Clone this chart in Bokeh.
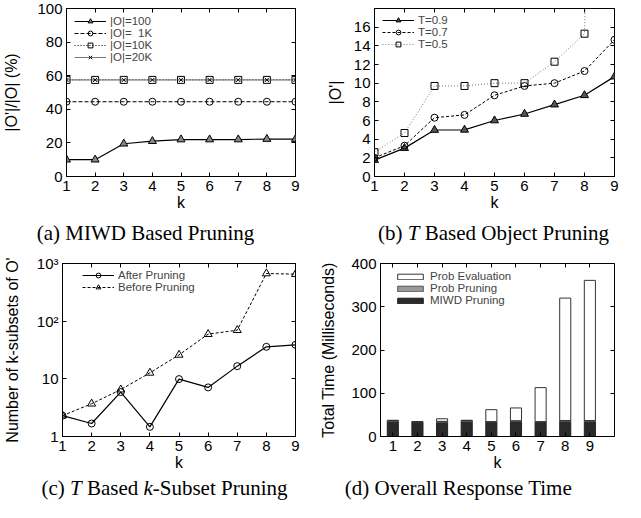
from bokeh.plotting import figure
from bokeh.layouts import column, row
from bokeh.models import (Range1d, LinearAxis, LogAxis, FixedTicker, Legend,
                          LegendItem, Label, ColumnDataSource)
from bokeh.embed import file_html
from bokeh.resources import INLINE

# ---------------- data ----------------
k = [1, 2, 3, 4, 5, 6, 7, 8, 9]
k_ticks = [1, 2, 3, 4, 5, 6, 7, 8, 9]

# (a) MIWD based pruning, |O'|/|O| (%)
ratio_100 = [10, 10, 19.5, 21, 22, 22, 22, 22.3, 22.3]
ratio_1k = [44.5, 44.5, 44.5, 44.5, 44.5, 44.5, 44.5, 44.5, 44.5]
ratio_10k = [57.5, 57.5, 57.5, 57.5, 57.5, 57.5, 57.5, 57.5, 57.5]
ratio_20k = [57.5, 57.5, 57.5, 57.5, 57.5, 57.5, 57.5, 57.5, 57.5]
a_labels = ["|O|=100", "|O|=  1K", "|O|=10K", "|O|=20K"]
a_yticks = [0, 20, 40, 60, 80, 100]

# (b) T based object pruning, |O'|
t09 = [1.76, 3.04, 4.98, 5.0, 6.0, 6.7, 7.7, 8.7, 10.7]
t07 = [2.0, 3.3, 6.3, 6.6, 8.7, 9.7, 10.0, 11.3, 14.65]
t05 = [2.6, 4.66, 9.7, 9.7, 10.0, 10.0, 12.3, 15.3, 150]
b_labels = ["T=0.9", "T=0.7", "T=0.5"]
b_yticks = [0, 2, 4, 6, 8, 10, 12, 14, 16]

# (c) T based k-subset pruning
after_pruning = [2.3, 1.68, 5.9, 1.47, 9.9, 7.1, 16.6, 35.9, 38.9]
before_pruning = [2.3, 3.7, 6.5, 12.7, 26, 59.5, 69.8, 671, 653]
c_labels = ["After Pruning", "Before Pruning"]
c_yticks = [1, 10, 100, 1000]
c_ytick_text = {1: "1", 10: "10", 100: "10\u00b2", 1000: "10\u00b3"}

# (d) overall response time (ms)
miwd_pruning = [35, 34, 33, 35, 34, 35, 34, 35, 35]
prob_pruning = [2, 0.5, 2, 2, 0.5, 1.5, 0.5, 2, 2]
prob_evaluation = [0.5, 0, 6, 0.5, 27.5, 29.5, 78.5, 283, 324]
d_labels = ["Prob Evaluation", "Prob Pruning", "MIWD Pruning"]
d_yticks = [0, 100, 200, 300, 400]

SANS = "Liberation Sans"
SERIF = "Liberation Serif"
W = 312


def style_axis(ax, label_standoff=0):
    ax.major_tick_in = 4
    ax.major_tick_out = 0
    ax.minor_tick_in = 0
    ax.minor_tick_out = 0
    ax.axis_line_color = "black"
    ax.major_tick_line_color = "black"
    ax.major_label_text_font = SANS
    ax.major_label_text_font_size = "15px"
    ax.major_label_text_color = "black"
    ax.major_label_standoff = 4
    ax.axis_label_text_font = SANS
    ax.axis_label_text_font_size = "16px"
    ax.axis_label_text_font_style = "normal"
    ax.axis_label_text_color = "black"
    ax.axis_label_standoff = label_standoff


def mirror(p, ticks, side, log=False):
    cls = LogAxis if log else LinearAxis
    ax = cls(ticker=FixedTicker(ticks=ticks),
             major_label_overrides={t: "" for t in ticks},
             major_label_text_font_size="1px", major_label_standoff=0,
             major_tick_in=4, major_tick_out=0, minor_tick_in=0, minor_tick_out=0,
             axis_line_color=None, major_tick_line_color="black")
    p.add_layout(ax, side)


def make_fig(h, xr, yr, left, right, top, bottom, ylabel, ystand, yticks, xticks, log=False):
    p = figure(width=W, height=h, x_range=xr, y_range=yr,
               y_axis_type="log" if log else "linear",
               output_backend="svg", toolbar_location=None,
               min_border_left=left, min_border_right=right,
               min_border_top=top, min_border_bottom=bottom)
    p.grid.visible = False
    p.outline_line_color = "black"
    p.outline_line_width = 1
    p.background_fill_color = "white"
    p.border_fill_color = "white"
    p.xaxis.ticker = FixedTicker(ticks=xticks)
    p.yaxis.ticker = FixedTicker(ticks=yticks)
    p.xaxis.axis_label = "k"
    p.yaxis.axis_label = ylabel
    style_axis(p.xaxis[0], 0)
    style_axis(p.yaxis[0], ystand)
    mirror(p, xticks, "above")
    mirror(p, yticks, "right", log=log)
    return p


def make_legend(p, items, loc, glyph_h=12, row_h=12):
    leg = Legend(items=items, location=loc, background_fill_alpha=0,
                 border_line_color=None, label_text_font=SANS,
                 label_text_font_size="11.5px", label_height=row_h,
                 glyph_height=glyph_h, glyph_width=32, spacing=0,
                 padding=0, margin=0, label_standoff=4,
                 label_text_baseline="middle")
    p.add_layout(leg)


def caption_fig(h):
    c = figure(width=W, height=h, x_range=Range1d(0, W), y_range=Range1d(0, h),
               output_backend="svg", toolbar_location=None, min_border=0,
               min_border_left=0, min_border_right=0, min_border_top=0,
               min_border_bottom=0)
    c.axis.visible = False
    c.grid.visible = False
    c.outline_line_color = None
    return c


def caption(c, x, y, text, italic=False, align="left"):
    c.add_layout(Label(x=x, y=y, text=text,
                       text_font=SERIF, text_font_size="21px",
                       text_font_style="italic" if italic else "normal",
                       text_align=align, text_baseline="middle",
                       text_color="black"))


# ---------------- (a) ----------------
pa = make_fig(220, Range1d(1, 9), Range1d(0, 100), 62, 17, 8, 44,
              "|O'|/|O| (%)", 14, a_yticks, k_ticks)
src_a = ColumnDataSource(dict(k=k, r100=ratio_100, r1k=ratio_1k,
                              r10k=ratio_10k, r20k=ratio_20k))
la1 = pa.line("k", "r100", source=src_a, line_color="black", line_width=1.2)
ma1 = pa.scatter("k", "r100", source=src_a, marker="triangle", size=8,
                 line_color="black", fill_color="#888888")
la2 = pa.line("k", "r1k", source=src_a, line_color="black", line_width=1, line_dash="4 2")
ma2 = pa.scatter("k", "r1k", source=src_a, marker="circle", size=7,
                 line_color="black", fill_color=None)
la3 = pa.line("k", "r10k", source=src_a, line_color="black", line_width=1, line_dash="1 2")
ma3 = pa.scatter("k", "r10k", source=src_a, marker="square", size=7,
                 line_color="black", fill_color=None)
la4 = pa.line("k", "r20k", source=src_a, line_color="#555555", line_width=0.8)
ma4 = pa.scatter("k", "r20k", source=src_a, marker="x", size=6,
                 line_color="black")
make_legend(pa, [LegendItem(label=a_labels[0], renderers=[la1, ma1]),
                 LegendItem(label=a_labels[1], renderers=[la2, ma2]),
                 LegendItem(label=a_labels[2], renderers=[la3, ma3]),
                 LegendItem(label=a_labels[3], renderers=[la4, ma4])], (8, 113))
ca = caption_fig(28)
caption(ca, 145, 16, "(a) MIWD Based Pruning", align="center")

# ---------------- (b) ----------------
pb = make_fig(220, Range1d(1, 9), Range1d(0, 18), 62, 10, 8, 44,
              "|O'|", 7, b_yticks, k_ticks)
src_b = ColumnDataSource(dict(k=k, t09=t09, t07=t07, t05=t05))
lb1 = pb.line("k", "t09", source=src_b, line_color="black", line_width=1.2)
mb1 = pb.scatter("k", "t09", source=src_b, marker="triangle", size=8,
                 line_color="black", fill_color="#555555")
lb2 = pb.line("k", "t07", source=src_b, line_color="black", line_width=1, line_dash="3 2")
mb2 = pb.scatter("k", "t07", source=src_b, marker="circle", size=7,
                 line_color="black", fill_color=None)
lb3 = pb.line("k", "t05", source=src_b, line_color="#777777", line_width=1, line_dash="1 2")
mb3 = pb.scatter("k", "t05", source=src_b, marker="square", size=7,
                 line_color="black", fill_color=None)
make_legend(pb, [LegendItem(label=b_labels[0], renderers=[lb1, mb1]),
                 LegendItem(label=b_labels[1], renderers=[lb2, mb2]),
                 LegendItem(label=b_labels[2], renderers=[lb3, mb3])], (8, 126))
cb = caption_fig(28)
caption(cb, 65.5, 16, "(b)")
caption(cb, 95.2, 16, "T", italic=True)
caption(cb, 112.2, 16, "Based Object Pruning")

# ---------------- (c) ----------------
pc = make_fig(228, Range1d(1, 9), Range1d(1, 1000), 60, 17, 15, 40,
              "Number of k-subsets of O'", 13, c_yticks, k_ticks, log=True)
pc.yaxis[0].major_label_overrides = c_ytick_text
src_c = ColumnDataSource(dict(k=k, after=after_pruning, before=before_pruning))
lc1 = pc.line("k", "after", source=src_c, line_color="black", line_width=1.2)
mc1 = pc.scatter("k", "after", source=src_c, marker="circle", size=7,
                 line_color="black", fill_color=None)
lc2 = pc.line("k", "before", source=src_c, line_color="black", line_width=1, line_dash="3 2")
mc2 = pc.scatter("k", "before", source=src_c, marker="triangle", size=8,
                 line_color="black", fill_color=None)
make_legend(pc, [LegendItem(label=c_labels[0], renderers=[lc1, mc1]),
                 LegendItem(label=c_labels[1], renderers=[lc2, mc2])], (20, 143))
cc = caption_fig(24)
caption(cc, 40.9, 13, "(c)")
caption(cc, 69.45, 13, "T", italic=True)
caption(cc, 86.4, 13, "Based")
caption(cc, 142.95, 13, "k", italic=True)
caption(cc, 152.25, 13, "-Subset Pruning")

# ---------------- (d) ----------------
pd_ = make_fig(228, Range1d(0.5, 10), Range1d(0, 400), 68, 10, 15, 40,
               "Total Time (Milliseconds)", 11, d_yticks, k_ticks)
src_d = ColumnDataSource(dict(k=k, miwd=miwd_pruning, prune=prob_pruning,
                              evalp=prob_evaluation))
bars = pd_.vbar_stack(["miwd", "prune", "evalp"], x="k", width=0.45, source=src_d,
                      fill_color=["#2a2a2a", "#999999", "white"],
                      line_color=["#222222", "#555555", "#333333"], line_width=1)
make_legend(pd_, [LegendItem(label=d_labels[0], renderers=[bars[2]]),
                  LegendItem(label=d_labels[1], renderers=[bars[1]]),
                  LegendItem(label=d_labels[2], renderers=[bars[0]])], (14, 130),
            glyph_h=7)
cd = caption_fig(24)
caption(cd, 146, 13, "(d) Overall Response Time", align="center")

layout = column(row(pa, pb), row(ca, cb), row(pc, pd_), row(cc, cd))
open("out.html", "w").write(file_html(layout, INLINE))
